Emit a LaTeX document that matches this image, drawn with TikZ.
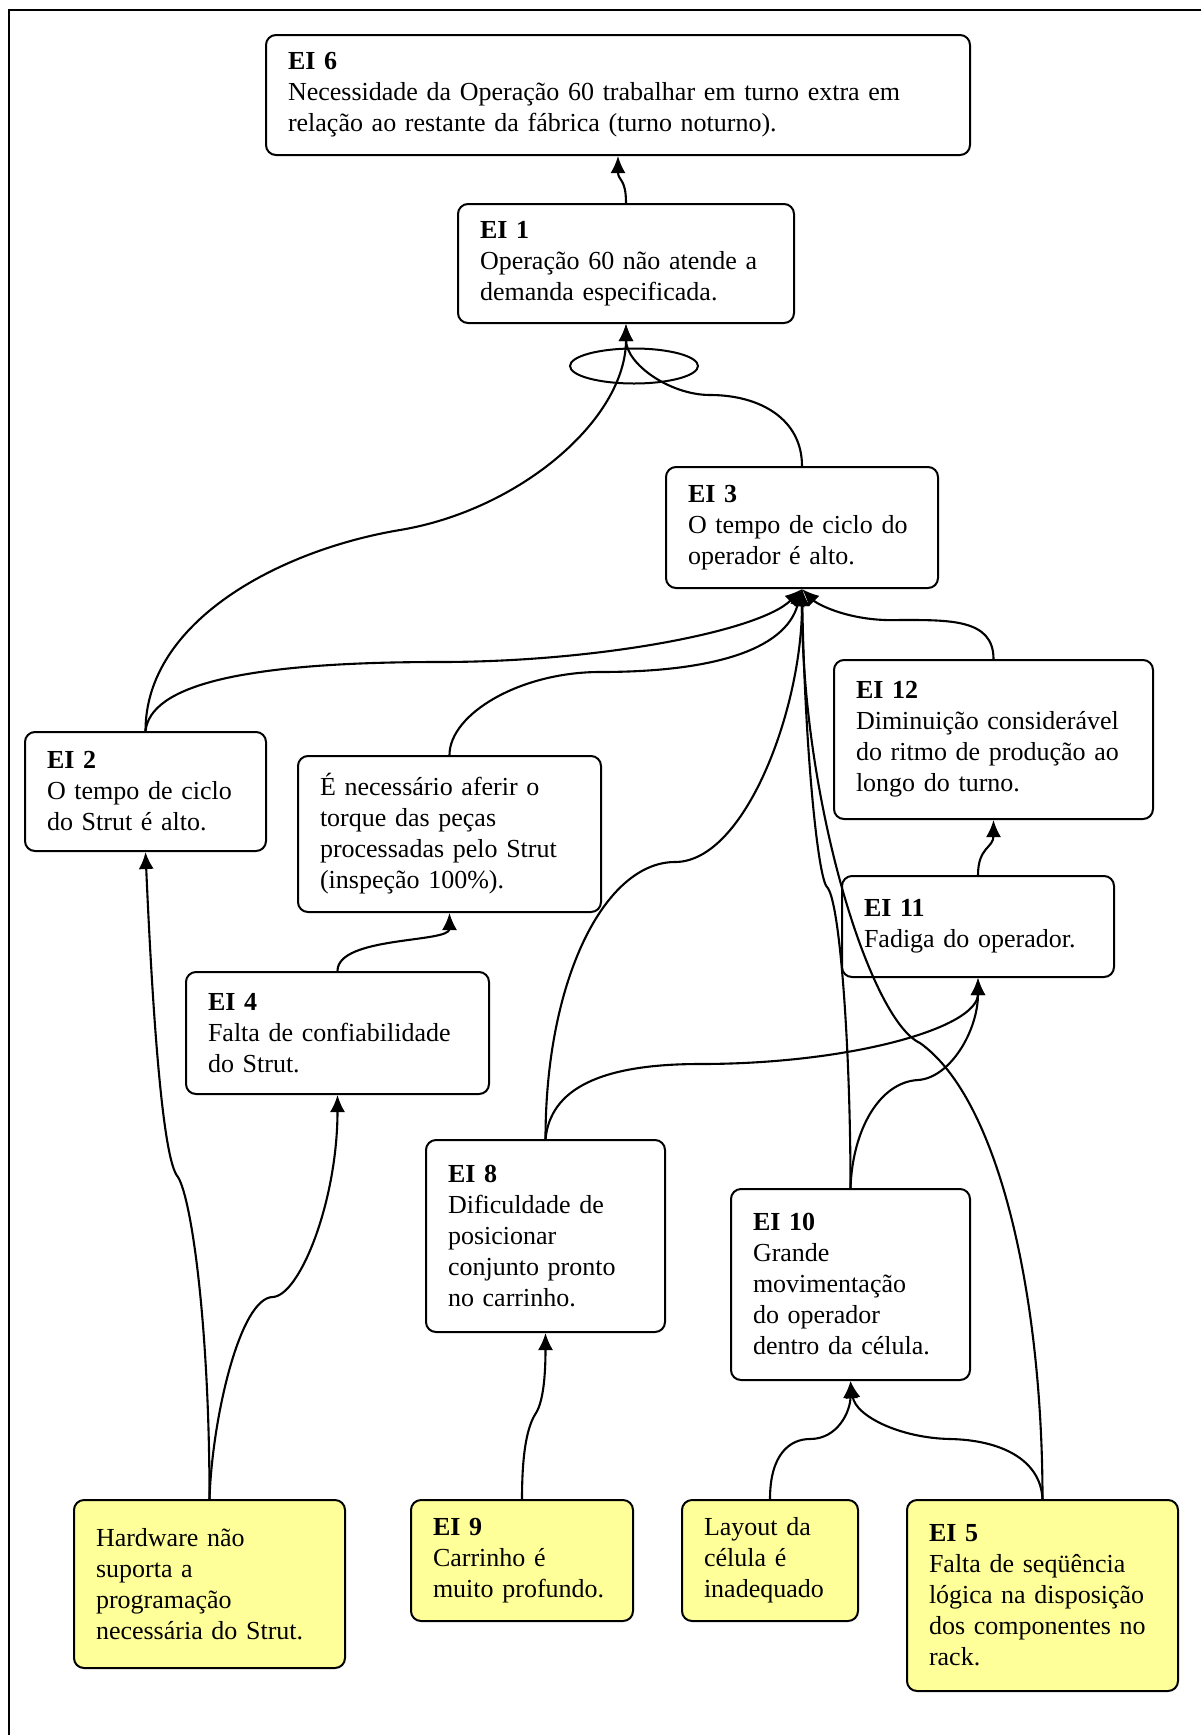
\documentclass[tikz,border=0pt]{standalone}
\usepackage{fontspec}
\setmainfont{Liberation Serif}
\usetikzlibrary{arrows.meta,shapes.geometric}
\definecolor{ink}{HTML}{000000}
\definecolor{causefill}{HTML}{FFFF99}
\tikzset{
  effect/.style={draw=ink, fill=white, rounded corners=5pt, line width=1pt,
                 align=left, inner xsep=11pt, inner ysep=0pt,
                 font=\fontsize{13}{15.5}\selectfont},
  cause/.style={effect, fill=causefill},
  link/.style={-{Latex[length=8.5pt,width=7.5pt]}, line width=1.05pt, draw=ink},
  andmark/.style={draw=ink, ellipse, line width=1pt, inner sep=0pt,
                  minimum width=64pt, minimum height=17.5pt}
}
\begin{document}
\begin{tikzpicture}[x=0.5pt,y=-0.5pt]
  \useasboundingbox (0,0) rectangle (1201,1735);
  \draw[line width=1pt] (9,1735) -- (9,10) -- (1201,10);

  \node[effect, text width=330pt, minimum height=60pt] (ei6) at (618,95)
    {\textbf{EI 6}\\Necessidade da Operação 60 trabalhar em turno extra em\\relação ao restante da fábrica (turno noturno).};
  \node[effect, text width=146pt, minimum height=59.5pt] (ei1) at (626,263.5)
    {\textbf{EI 1}\\Operação 60 não atende a\\demanda especificada.};
  \node[effect, text width=114pt, minimum height=60.5pt] (ei3) at (802,527.5)
    {\textbf{EI 3}\\O tempo de ciclo do\\operador é alto.};
  \node[effect, text width=137.5pt, minimum height=79.5pt] (ei12) at (993.5,739.5)
    {\textbf{EI 12}\\Diminuição considerável\\do ritmo de produção ao\\longo do turno.};
  \node[effect, text width=98.5pt, minimum height=59.5pt] (ei2) at (145.5,791.5)
    {\textbf{EI 2}\\O tempo de ciclo\\do Strut é alto.};
  \node[effect, text width=129.5pt, minimum height=78pt] (aferir) at (449.5,834)
    {É necessário aferir o\\torque das peças\\processadas pelo Strut\\(inspeção 100\%).};
  \node[effect, text width=114pt, minimum height=50.5pt] (ei11) at (978,926.5)
    {\textbf{EI 11}\\Fadiga do operador.};
  \node[effect, text width=129.5pt, minimum height=61pt] (ei4) at (337.5,1033)
    {\textbf{EI 4}\\Falta de confiabilidade\\do Strut.};
  \node[effect, text width=97.5pt, minimum height=96pt] (ei8) at (545.5,1236)
    {\textbf{EI 8}\\Dificuldade de\\posicionar\\conjunto pronto\\no carrinho.};
  \node[effect, text width=97.5pt, minimum height=95.5pt] (ei10) at (850.5,1284.5)
    {\textbf{EI 10}\\Grande\\movimentação\\do operador\\dentro da célula.};

  \node[cause, text width=113.5pt, minimum height=84pt] (hardware) at (209.5,1584)
    {Hardware não\\suporta a\\programação\\necessária do Strut.};
  \node[cause, text width=89pt, minimum height=60.5pt] (ei9) at (522,1560.5)
    {\textbf{EI 9}\\Carrinho é\\muito profundo.};
  \node[cause, text width=66pt, minimum height=60.5pt] (layout) at (770,1560.5)
    {Layout da\\célula é\\inadequado};
  \node[cause, text width=113.5pt, minimum height=95.5pt] (ei5) at (1042.5,1595.5)
    {\textbf{EI 5}\\Falta de seqüência\\lógica na disposição\\dos componentes no\\rack.};

  \draw[link] (ei1.north) .. controls +(0,-25) and +(0,25) .. (ei6.south);

  \draw[link] (ei2.north) .. controls +(0,-110) and +(-120,20) .. (400,530)
    .. controls +(120,-20) and +(0,95) .. (ei1.south);
  \draw[link] (ei3.north) .. controls +(0,-47) and +(50,0) .. (710,395)
    .. controls +(-40,0) and +(0,40) .. (ei1.south);
  \node[andmark] (and1) at (634,366) {};

  \draw[link] (ei12.north) .. controls +(0,-40) and +(50,0) .. (900,620)
    .. controls +(-50,2) and +(15,15) .. (ei3.south);
  \draw[link] (ei2.north) .. controls +(5,-45) and +(-200,0) .. (440,662)
    .. controls +(160,0) and +(-42,42) .. (ei3.south);
  \draw[link] (aferir.north) .. controls +(0,-41) and +(-80,0) .. (600,672)
    .. controls +(110,0) and +(-17,62) .. (ei3.south);
  \draw[link] (ei8.north) .. controls +(0,-160) and +(-70,0) .. (675,862)
    .. controls +(70,0) and +(0,120) .. (ei3.south);
  \draw[link] (ei10.north) .. controls +(0,-139) and +(13,13) .. (827,887)
    .. controls +(-9,-9) and +(3,162) .. (ei3.south);
  \draw[link] (ei5.north) .. controls +(0,-200) and +(80,57) .. (920,1043)
    .. controls +(-50,-23) and +(0,212) .. (ei3.south);

  \draw[link] (ei8.north) .. controls +(5,-50) and +(-100,0) .. (700,1064)
    .. controls +(150,0) and +(0,50) .. (ei11.south);
  \draw[link] (ei10.north) .. controls +(2,-59) and +(-38,2) .. (918,1080)
    .. controls +(32,-2) and +(0,53) .. (ei11.south);
  \draw[link] (ei11.north) .. controls +(0,-28) and +(0,28) .. (ei12.south);

  \draw[link] (ei4.north) .. controls +(0,-35) and +(0,30) .. (aferir.south);
  \draw[link] (hardware.north) .. controls +(0,-170) and +(14,23) .. (178,1177)
    .. controls +(-16,-17) and +(6.5,149) .. (ei2.south);
  \draw[link] (hardware.north) .. controls +(2.5,-80) and +(-33,0) .. (273,1297)
    .. controls +(27,-2) and +(0,106) .. (ei4.south);
  \draw[link] (ei9.north) .. controls +(0,-50) and +(-8,12) .. (536,1413)
    .. controls +(8,-13) and +(0,38) .. (ei8.south);
  \draw[link] (layout.north) .. controls +(0,-45) and +(-20,0) .. (810,1439)
    .. controls +(28,0) and +(0,30) .. (ei10.south);
  \draw[link] (ei5.north) .. controls +(-2,-40) and +(50,1) .. (950,1439)
    .. controls +(-50,-1) and +(5,35) .. (ei10.south);
\end{tikzpicture}
\end{document}
